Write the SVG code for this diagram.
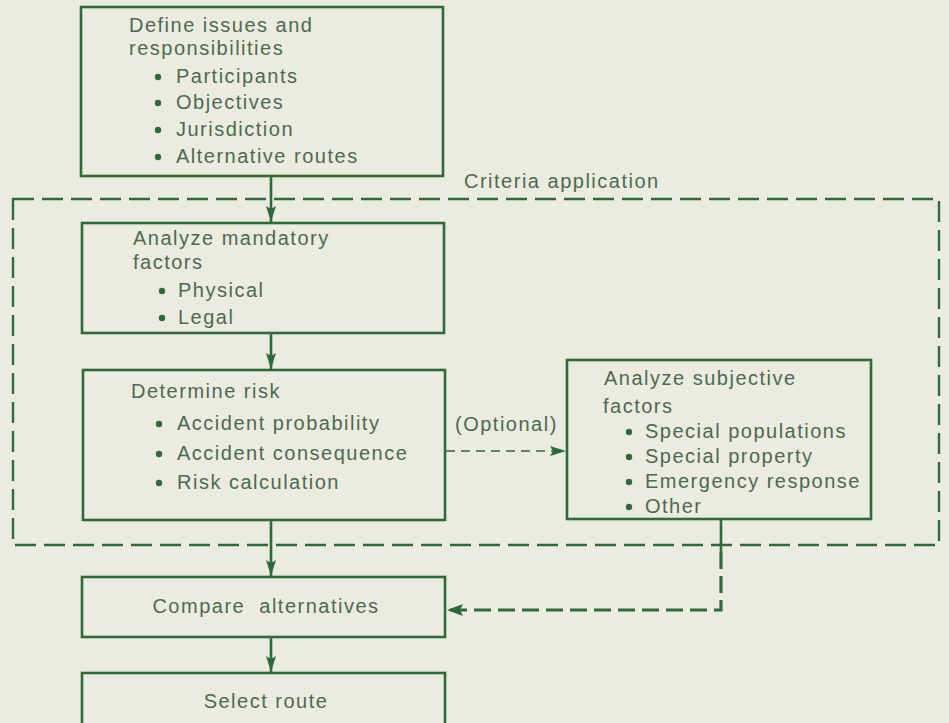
<svg xmlns="http://www.w3.org/2000/svg" width="949" height="723" viewBox="0 0 949 723">
<style>
.bg{fill:#ecebdf}
.box{fill:none;stroke:#2f6a3c;stroke-width:2.6}
.t{font-family:"Liberation Sans",Arial,sans-serif;font-size:20px;letter-spacing:1.5px;fill:#4b6a52;white-space:pre}
.c{text-anchor:middle}
.b{fill:#2f6a3c}
.ln{fill:none;stroke:#2f6a3c;stroke-width:2.6}
.dash{fill:none;stroke:#2f6a3c;stroke-width:2.4;stroke-dasharray:21 8}
.thin{fill:none;stroke:#2f6a3c;stroke-width:1.6;stroke-dasharray:9 6}
.thick{fill:none;stroke:#2f6a3c;stroke-width:3.2;stroke-dasharray:17 7}
</style>
<defs>
<marker id="ah" viewBox="0 0 16 10" refX="16" refY="5" markerWidth="16" markerHeight="10" markerUnits="userSpaceOnUse" orient="auto">
<path d="M0,0 L16,5 L0,10 L3,5 Z" fill="#2f6a3c"/>
</marker>
<marker id="ahL" viewBox="0 0 16 12" refX="16" refY="6" markerWidth="16" markerHeight="12" markerUnits="userSpaceOnUse" orient="auto">
<path d="M0,0 L16,6 L0,12 L3,6 Z" fill="#2f6a3c"/>
</marker>
</defs>
<rect class="bg" x="0" y="0" width="949" height="723"/>

<g id="criteria">
<rect class="dash" x="13" y="199" width="926" height="346"/>
<text class="t" x="464" y="188">Criteria application</text>
</g>

<g id="define">
<rect class="box" x="81" y="7" width="362" height="169"/>
<text class="t" x="129" y="32">Define issues and</text>
<text class="t" x="129" y="55">responsibilities</text>
<circle class="b" cx="158" cy="77" r="3.2"/>
<text class="t" x="176" y="83">Participants</text>
<circle class="b" cx="158" cy="103" r="3.2"/>
<text class="t" x="176" y="109">Objectives</text>
<circle class="b" cx="158" cy="130" r="3.2"/>
<text class="t" x="176" y="136">Jurisdiction</text>
<circle class="b" cx="158" cy="157" r="3.2"/>
<text class="t" x="176" y="163">Alternative routes</text>
</g>

<g id="mandatory">
<rect class="box" x="82" y="223" width="362" height="110"/>
<text class="t" x="133" y="245">Analyze mandatory</text>
<text class="t" x="133" y="269">factors</text>
<circle class="b" cx="162" cy="291" r="3.2"/>
<text class="t" x="178" y="297">Physical</text>
<circle class="b" cx="162" cy="318" r="3.2"/>
<text class="t" x="178" y="324">Legal</text>
</g>

<g id="risk">
<rect class="box" x="83" y="370" width="362" height="150"/>
<text class="t" x="131" y="398">Determine risk</text>
<circle class="b" cx="159" cy="424" r="3.2"/>
<text class="t" x="177" y="430">Accident probability</text>
<circle class="b" cx="159" cy="454" r="3.2"/>
<text class="t" x="177" y="460">Accident consequence</text>
<circle class="b" cx="159" cy="483" r="3.2"/>
<text class="t" x="177" y="489">Risk calculation</text>
</g>

<g id="subjective">
<rect class="box" x="567" y="360" width="304" height="159"/>
<text class="t" x="604" y="385">Analyze subjective</text>
<text class="t" x="603" y="413">factors</text>
<circle class="b" cx="629" cy="432" r="3.2"/>
<text class="t" x="645" y="438">Special populations</text>
<circle class="b" cx="629" cy="457" r="3.2"/>
<text class="t" x="645" y="463">Special property</text>
<circle class="b" cx="629" cy="482" r="3.2"/>
<text class="t" x="645" y="488">Emergency response</text>
<circle class="b" cx="629" cy="507" r="3.2"/>
<text class="t" x="645" y="513">Other</text>
</g>

<g id="compare">
<rect class="box" x="82" y="577" width="363" height="60"/>
<text class="t c" x="266" y="613" xml:space="preserve">Compare  alternatives</text>
</g>

<g id="select">
<rect class="box" x="82" y="673" width="363" height="70"/>
<text class="t c" x="266" y="708">Select route</text>
</g>

<g id="connectors">
<line class="ln" x1="271" y1="176" x2="271" y2="222" marker-end="url(#ah)"/>
<line class="ln" x1="271" y1="333" x2="271" y2="369" marker-end="url(#ah)"/>
<line class="ln" x1="271" y1="520" x2="271" y2="576" marker-end="url(#ah)"/>
<line class="ln" x1="271" y1="637" x2="271" y2="672" marker-end="url(#ah)"/>
<line class="thin" x1="446" y1="451" x2="566" y2="451" marker-end="url(#ah)"/>
<text class="t" x="455" y="431">(Optional)</text>
<line class="ln" x1="721" y1="519" x2="721" y2="552"/>
<path class="thick" d="M721,552 L721,610 L447,610" marker-end="url(#ahL)"/>
</g>
</svg>
